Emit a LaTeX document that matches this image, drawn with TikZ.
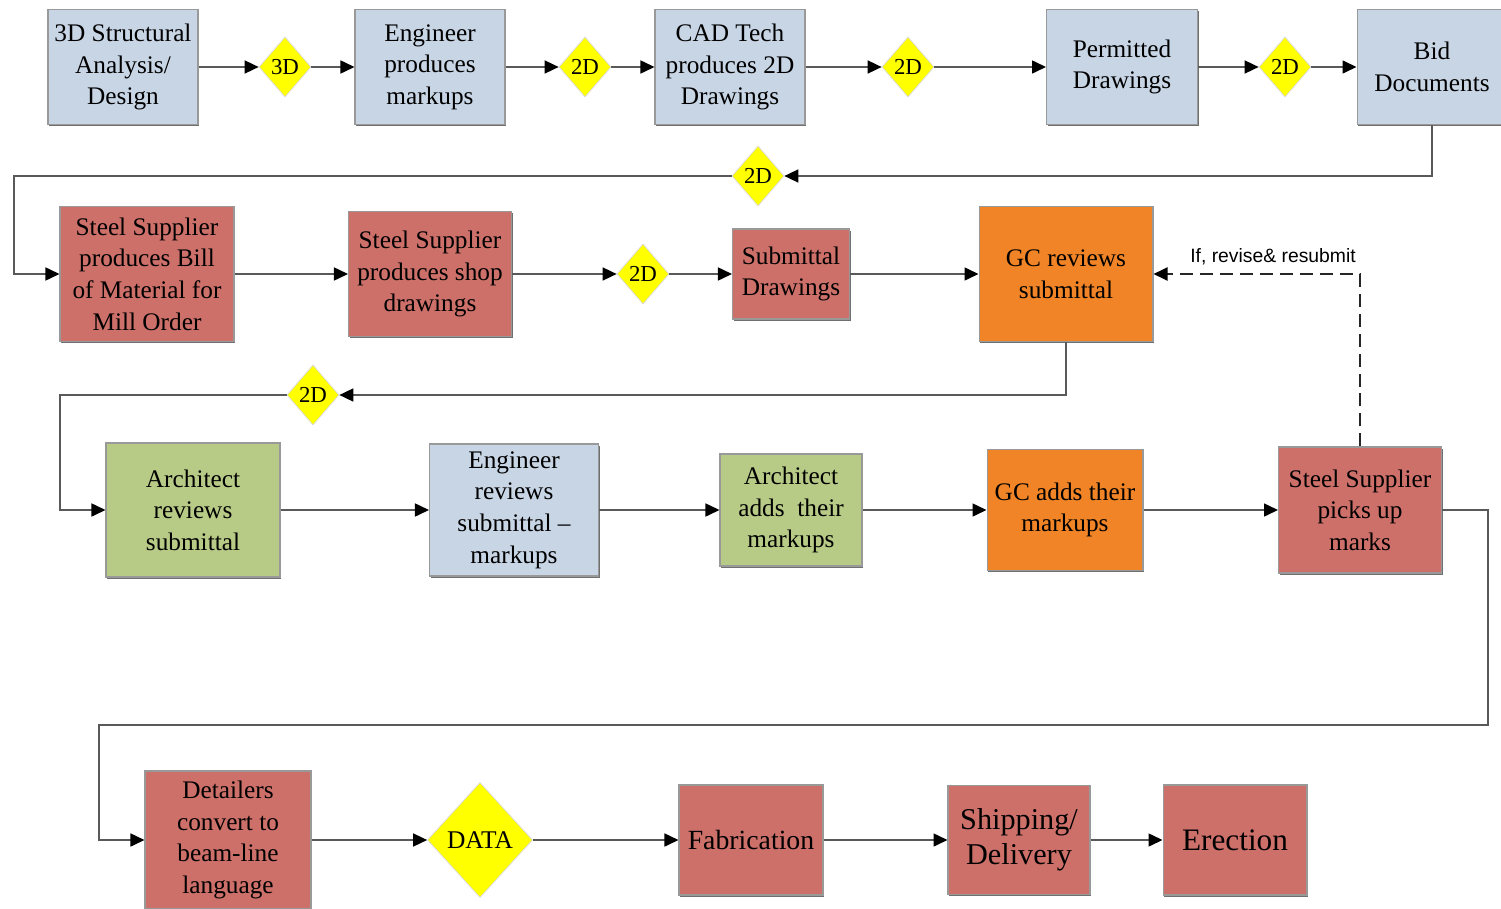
\documentclass[tikz,border=0pt]{standalone}
\usepackage{fontspec}
\setmainfont{Liberation Serif}
\newfontfamily\notefont{Liberation Sans}
\usepackage{xcolor}
\usepackage{tikz}
\usetikzlibrary{arrows.meta,positioning,shapes,shadows}

\definecolor{boxblue}{RGB}{200,213,229}
\definecolor{boxred}{RGB}{205,112,106}
\definecolor{boxgreen}{RGB}{183,202,134}
\definecolor{boxorange}{RGB}{240,132,38}
\definecolor{tagyellow}{RGB}{255,255,0}

\tikzset{
  stage/.style={draw=black!40, line width=0.6pt, align=center, inner sep=1pt,
    font=\fontsize{14.4}{18}\selectfont,
    drop shadow={shadow xshift=0.7pt, shadow yshift=-0.9pt, fill=black!70, opacity=0.8}},
  datatag/.style={diamond, draw=black!15, fill=tagyellow, inner sep=0pt,
    minimum width=1.04cm, minimum height=1.2cm, font=\fontsize{13}{14}\selectfont},
  flowline/.style={draw=black!65, line width=0.9pt, -{Triangle[length=0.28cm,width=0.26cm,black]}},
  revline/.style={flowline, draw=black!85, line width=1.1pt, dash pattern=on 0.26cm off 0.14cm}
}

\begin{document}
\begin{tikzpicture}[x=0.02cm, y=-0.02cm]
\useasboundingbox (0,0) rectangle (1501,909);

% Row 1: design documents
\node[stage, fill=boxblue, minimum width=3cm, minimum height=2.3cm] (analysis) at (123,67) {3D Structural\\Analysis/\\Design};
\node[datatag] (tagA) at (285,67) {3D};
\node[stage, fill=boxblue, minimum width=3cm, minimum height=2.3cm] (markups) at (430,67) {Engineer\\produces\\markups};
\node[datatag] (tagB) at (585,67) {2D};
\node[stage, fill=boxblue, minimum width=3cm, minimum height=2.3cm] (cadtech) at (730,67) {CAD Tech\\produces 2D\\Drawings};
\node[datatag] (tagC) at (908,67) {2D};
\node[stage, fill=boxblue, minimum width=3.02cm, minimum height=2.3cm] (permitted) at (1122,67) {Permitted\\Drawings};
\node[datatag] (tagD) at (1285,67) {2D};
\node[stage, fill=boxblue, minimum width=3cm, minimum height=2.3cm] (bid) at (1432,67) {Bid\\Documents};
\node[datatag] (tagE) at (758,176) {2D};

% Row 2: steel supplier submittal
\node[stage, fill=boxred, minimum width=3.48cm, minimum height=2.7cm] (billmat) at (147,274) {Steel Supplier\\produces Bill\\of Material for\\Mill Order};
\node[stage, fill=boxred, minimum width=3.26cm, minimum height=2.5cm] (shopdwg) at (430,274) {Steel Supplier\\produces shop\\drawings};
\node[datatag] (tagF) at (643,274) {2D};
\node[stage, fill=boxred, minimum width=2.34cm, minimum height=1.8cm] (submittal) at (791,274) {Submittal\\Drawings};
\node[stage, fill=boxorange, minimum width=3.48cm, minimum height=2.7cm] (gcreview) at (1066,274) {GC reviews\\submittal};
\node[datatag] (tagG) at (313,395) {2D};

% Row 3: reviews and markups
\node[stage, fill=boxgreen, minimum width=3.48cm, minimum height=2.68cm] (archrev) at (193,510) {Architect\\reviews\\submittal};
\node[stage, fill=boxblue, minimum width=3.38cm, minimum height=2.64cm] (engrev) at (514,510) {Engineer\\reviews\\submittal --\\markups};
\node[stage, fill=boxgreen, minimum width=2.84cm, minimum height=2.24cm] (archadd) at (791,510) {Architect\\adds\ \ their\\markups};
\node[stage, fill=boxorange, minimum width=3.12cm, minimum height=2.42cm] (gcadd) at (1065,510) {GC adds their\\markups};
\node[stage, fill=boxred, minimum width=3.26cm, minimum height=2.52cm] (pickup) at (1360,510) {Steel Supplier\\picks up\\marks};

% Row 4: production
\node[stage, fill=boxred, minimum width=3.32cm, minimum height=2.76cm] (detailers) at (228,840) {Detailers\\convert to\\beam-line\\language};
\node[datatag, minimum width=2.1cm, minimum height=2.3cm, font=\fontsize{14.5}{16}\selectfont] (datatg) at (480,840) {DATA};
\node[stage, fill=boxred, minimum width=2.88cm, minimum height=2.2cm, font=\fontsize{15.8}{19}\selectfont] (fabric) at (751,840) {Fabrication};
\node[stage, fill=boxred, minimum width=2.84cm, minimum height=2.18cm, font=\fontsize{17.2}{20}\selectfont] (shipping) at (1019,840) {Shipping/\\Delivery};
\node[stage, fill=boxred, minimum width=2.88cm, minimum height=2.2cm, font=\fontsize{17.8}{20}\selectfont] (erection) at (1235,840) {Erection};

% Turning points
\coordinate (turnA) at (14,176);
\coordinate (turnB) at (60,395);
\coordinate (turnC) at (1488,725);
\coordinate (turnD) at (99,725);

% Connectors
\draw[flowline] (analysis) -- (tagA);
\draw[flowline] (tagA) -- (markups);
\draw[flowline] (markups) -- (tagB);
\draw[flowline] (tagB) -- (cadtech);
\draw[flowline] (cadtech) -- (tagC);
\draw[flowline] (tagC) -- (permitted);
\draw[flowline] (permitted) -- (tagD);
\draw[flowline] (tagD) -- (bid);
\draw[flowline] (bid.south) |- (tagE.east);
\draw[flowline] (tagE.west) -- (turnA) |- (billmat.west);

\draw[flowline] (billmat) -- (shopdwg);
\draw[flowline] (shopdwg) -- (tagF);
\draw[flowline] (tagF) -- (submittal);
\draw[flowline] (submittal) -- (gcreview);
\draw[flowline] (gcreview.south) |- (tagG.east);
\draw[flowline] (tagG.west) -- (turnB) |- (archrev.west);

\draw[flowline] (archrev) -- (engrev);
\draw[flowline] (engrev) -- (archadd);
\draw[flowline] (archadd) -- (gcadd);
\draw[flowline] (gcadd) -- (pickup);
\draw[revline] (pickup.north) |- (gcreview.east);
\node[font=\notefont\fontsize{11}{13}\selectfont] (revnote) at (1273,257) {If, revise\& resubmit};
\draw[flowline] (pickup.east) -| (turnC) -- (turnD) |- (detailers.west);

\draw[flowline] (detailers) -- (datatg);
\draw[flowline] (datatg) -- (fabric);
\draw[flowline] (fabric) -- (shipping);
\draw[flowline] (shipping) -- (erection);

\end{tikzpicture}
\end{document}
